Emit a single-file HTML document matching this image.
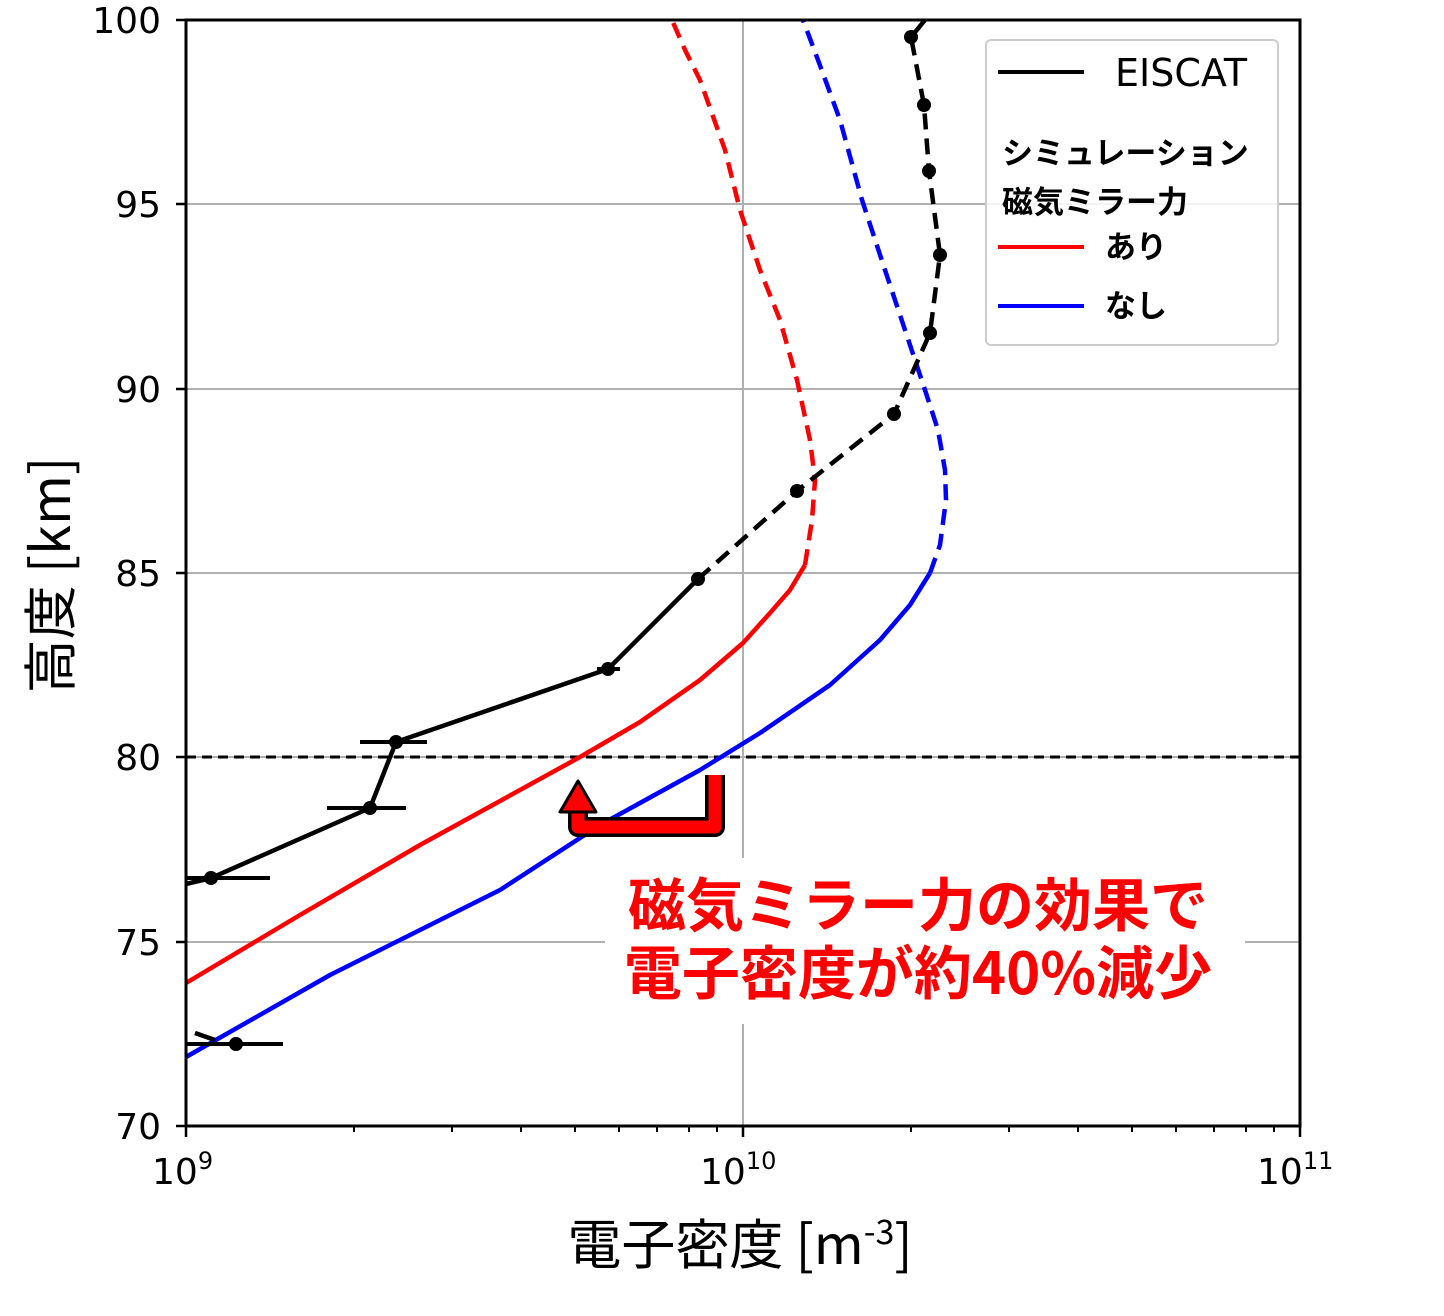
<!DOCTYPE html>
<html><head><meta charset="utf-8"><style>body{margin:0;background:#fff}svg{display:block}</style></head><body>
<svg width="1444" height="1316" viewBox="0 0 1444 1316" xmlns="http://www.w3.org/2000/svg" font-family="'DejaVu Sans','Liberation Sans','Noto Sans CJK JP',sans-serif">
<rect width="1444" height="1316" fill="#fff"/>
<g stroke="#b0b0b0" stroke-width="2">
<line x1="186" y1="204" x2="1300" y2="204"/><line x1="186" y1="389" x2="1300" y2="389"/><line x1="186" y1="573" x2="1300" y2="573"/><line x1="186" y1="757" x2="1300" y2="757"/><line x1="186" y1="942" x2="1300" y2="942"/>
<line x1="743" y1="20" x2="743" y2="1126"/>
</g>
<line x1="186" y1="757" x2="1300" y2="757" stroke="#000" stroke-width="3" stroke-dasharray="10,6"/>
<g fill="none" stroke-width="4.5" stroke-linejoin="round">
<polyline stroke="#f00" points="186,983 300,915 420,845 580,757 640,722 700,680 743,643 770,613 790,590 805,565"/>
<polyline stroke="#f00" stroke-dasharray="16,9" points="805,565 812,520 815,480 810,440 797,380 780,320 760,270 740,210 725,150 700,80 685,50 672,20"/>
<polyline stroke="#00f" points="186,1057 330,975 500,890 600,825 700,770 760,733 830,685 880,640 910,605 930,573"/>
<polyline stroke="#00f" stroke-dasharray="16,9" points="930,573 940,545 946,500 945,470 938,430 925,390 905,330 885,270 862,200 840,120 818,60 803,20"/>
<polyline stroke="#000" points="186,884 211,878 370,808 396,742 608,669 698,579"/>
<polyline stroke="#000" stroke-dasharray="16,9" points="698,579 797,491 894,414 930,333 940,255 929,171 924,105 911,37 925,20"/>
<line stroke="#000" x1="195" y1="1033" x2="215" y2="1040"/>
<g stroke="#000" stroke-width="4"><line x1="186" y1="878" x2="270" y2="878"/><line x1="327" y1="808" x2="406" y2="808"/><line x1="360" y1="742" x2="427" y2="742"/><line x1="597" y1="669" x2="620" y2="669"/><line x1="186" y1="1044" x2="283" y2="1044"/></g>
</g>
<g fill="#000"><circle cx="211" cy="878" r="7"/><circle cx="370" cy="808" r="7"/><circle cx="396" cy="742" r="7"/><circle cx="608" cy="669" r="7"/><circle cx="698" cy="579" r="7"/><circle cx="797" cy="491" r="7"/><circle cx="894" cy="414" r="7"/><circle cx="930" cy="333" r="7"/><circle cx="940" cy="255" r="7"/><circle cx="929" cy="171" r="7"/><circle cx="924" cy="105" r="7"/><circle cx="911" cy="37" r="7"/><circle cx="236" cy="1044" r="7"/></g>
<path d="M715,775 L715,827 L578,827 L578,810" fill="none" stroke="#000" stroke-width="20" stroke-linejoin="round"/>
<path d="M715,775 L715,827 L578,827 L578,810" fill="none" stroke="#f00" stroke-width="13" stroke-linejoin="round"/>
<polygon points="560,812 596,812 578,781" fill="#f00" stroke="#000" stroke-width="3" stroke-linejoin="round"/>
<rect x="605" y="858" width="640" height="166" fill="#fff"/>
<g fill="#f00" font-weight="bold" font-size="58" text-anchor="middle" font-family="'Noto Sans CJK JP',sans-serif"><text x="918" y="926">磁気ミラー力の効果で</text><text x="918" y="994">電子密度が約40%減少</text></g>
<rect x="186" y="20" width="1114" height="1106" fill="none" stroke="#000" stroke-width="3"/>
<g stroke="#000" stroke-width="2.5">
<line x1="176" y1="20" x2="186" y2="20"/><line x1="176" y1="204" x2="186" y2="204"/><line x1="176" y1="389" x2="186" y2="389"/><line x1="176" y1="573" x2="186" y2="573"/><line x1="176" y1="757" x2="186" y2="757"/><line x1="176" y1="942" x2="186" y2="942"/><line x1="176" y1="1126" x2="186" y2="1126"/>
<line x1="186" y1="1126" x2="186" y2="1137"/><line x1="743" y1="1126" x2="743" y2="1137"/><line x1="1300" y1="1126" x2="1300" y2="1137"/>
<g stroke-width="2">
<line x1="354" y1="1126" x2="354" y2="1132"/><line x1="452" y1="1126" x2="452" y2="1132"/><line x1="521" y1="1126" x2="521" y2="1132"/><line x1="575" y1="1126" x2="575" y2="1132"/><line x1="619" y1="1126" x2="619" y2="1132"/><line x1="657" y1="1126" x2="657" y2="1132"/><line x1="689" y1="1126" x2="689" y2="1132"/><line x1="717" y1="1126" x2="717" y2="1132"/>
<line x1="911" y1="1126" x2="911" y2="1132"/><line x1="1009" y1="1126" x2="1009" y2="1132"/><line x1="1078" y1="1126" x2="1078" y2="1132"/><line x1="1132" y1="1126" x2="1132" y2="1132"/><line x1="1176" y1="1126" x2="1176" y2="1132"/><line x1="1214" y1="1126" x2="1214" y2="1132"/><line x1="1246" y1="1126" x2="1246" y2="1132"/><line x1="1274" y1="1126" x2="1274" y2="1132"/>
</g></g>
<g font-size="36" text-anchor="end" fill="#000"><text x="161" y="33">100</text><text x="161" y="217">95</text><text x="161" y="402">90</text><text x="161" y="586">85</text><text x="161" y="770">80</text><text x="161" y="955">75</text><text x="161" y="1139">70</text></g>
<g font-size="36" fill="#000"><text x="152" y="1184">10<tspan font-size="24" dy="-15">9</tspan></text><text x="700" y="1184">10<tspan font-size="24" dy="-15">10</tspan></text><text x="1257" y="1184">10<tspan font-size="24" dy="-15">11</tspan></text></g>
<text x="740" y="1264" font-size="54" text-anchor="middle" font-family="'Noto Sans CJK JP',sans-serif">電子密度 [m<tspan font-size="34" dy="-20">-3</tspan><tspan dy="20">]</tspan></text>
<text transform="translate(70,575) rotate(-90)" font-size="54" text-anchor="middle" font-family="'Noto Sans CJK JP',sans-serif">高度 [km]</text>
<rect x="986" y="40" width="292" height="305" rx="5" fill="#fff" fill-opacity="0.85" stroke="#ccc" stroke-width="2"/>
<line x1="998" y1="72" x2="1084" y2="72" stroke="#000" stroke-width="4"/>
<text x="1115" y="86" font-size="38">EISCAT</text>
<g font-size="31" font-weight="bold" font-family="'Noto Sans CJK JP',sans-serif"><text x="1002" y="164">シミュレーション</text><text x="1002" y="213">磁気ミラー力</text><text x="1105" y="258">あり</text><text x="1105" y="317">なし</text></g>
<line x1="998" y1="247" x2="1084" y2="247" stroke="#f00" stroke-width="4"/>
<line x1="998" y1="306" x2="1084" y2="306" stroke="#00f" stroke-width="4"/>
</svg>
</body></html>
